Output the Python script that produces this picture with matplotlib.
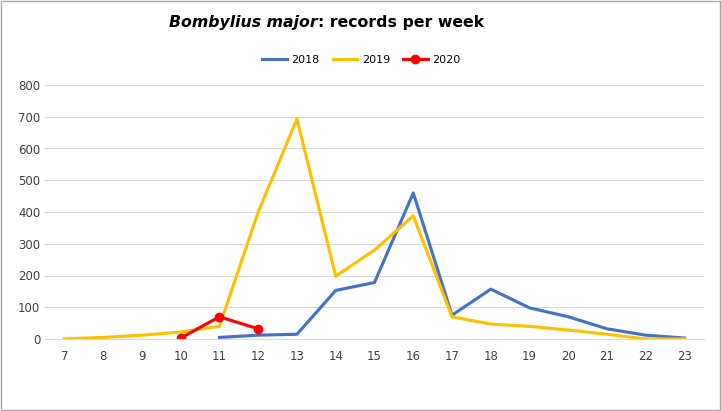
import matplotlib.pyplot as plt
from matplotlib.patches import Rectangle

weeks = list(range(7, 24))
weeks_2018 = list(range(11, 24))
vals_2018 = [5, 12, 15, 153, 178, 460, 75, 157, 98, 70, 32, 12, 3]
weeks_2019 = list(range(7, 24))
vals_2019 = [0, 5, 12, 22, 40, 400, 693, 198, 280, 388, 70, 47, 40, 28, 15, 0, 0]
weeks_2020 = [10, 11, 12]
vals_2020 = [3, 70, 32]

fig = plt.figure(figsize=(7.21, 4.11), dpi=100)
ax = fig.add_axes([45/721, 72/411, 659/721, 254/411])
ax.plot([w - 7 for w in weeks_2018], vals_2018, color='#4472C4', lw=2.25, label='2018')
ax.plot([w - 7 for w in weeks_2019], vals_2019, color='#FFC000', lw=2.25, label='2019')
ax.plot([w - 7 for w in weeks_2020], vals_2020, color='#FF0000', lw=2.25, marker='o', ms=6, label='2020')
ax.set_xlim(-0.5, len(weeks) - 0.5)
ax.set_ylim(0, 800)
ax.set_yticks(range(0, 801, 100))
ax.set_xticks(range(len(weeks)))
ax.set_xticklabels([str(w) for w in weeks])
ax.grid(axis='y', color='#D9D9D9', lw=0.8)
ax.set_axisbelow(True)
for s in ['top', 'right', 'left']:
    ax.spines[s].set_visible(False)
ax.spines['bottom'].set_color('#D9D9D9')
ax.tick_params(length=0, labelsize=8.5, colors='#404040')
ax.tick_params(axis='x', pad=8)
ax.legend(loc='lower center', bbox_to_anchor=(0.48, 1.04), ncol=3, frameon=False, fontsize=8,
          handlelength=2.2, columnspacing=1.2, handletextpad=0.4)
fig.text(318/721, 1 - 23/411, 'Bombylius major', fontsize=11.3, fontweight='bold', style='italic', ha='right', va='center')
fig.text(318/721, 1 - 23/411, ': records per week', fontsize=11.3, fontweight='bold', ha='left', va='center')
fig.patches.append(Rectangle((0.001, 0.002), 0.997, 0.995, transform=fig.transFigure, fill=False, ec='#A6A6A6', lw=1))
fig.savefig('out.png', dpi=100)
